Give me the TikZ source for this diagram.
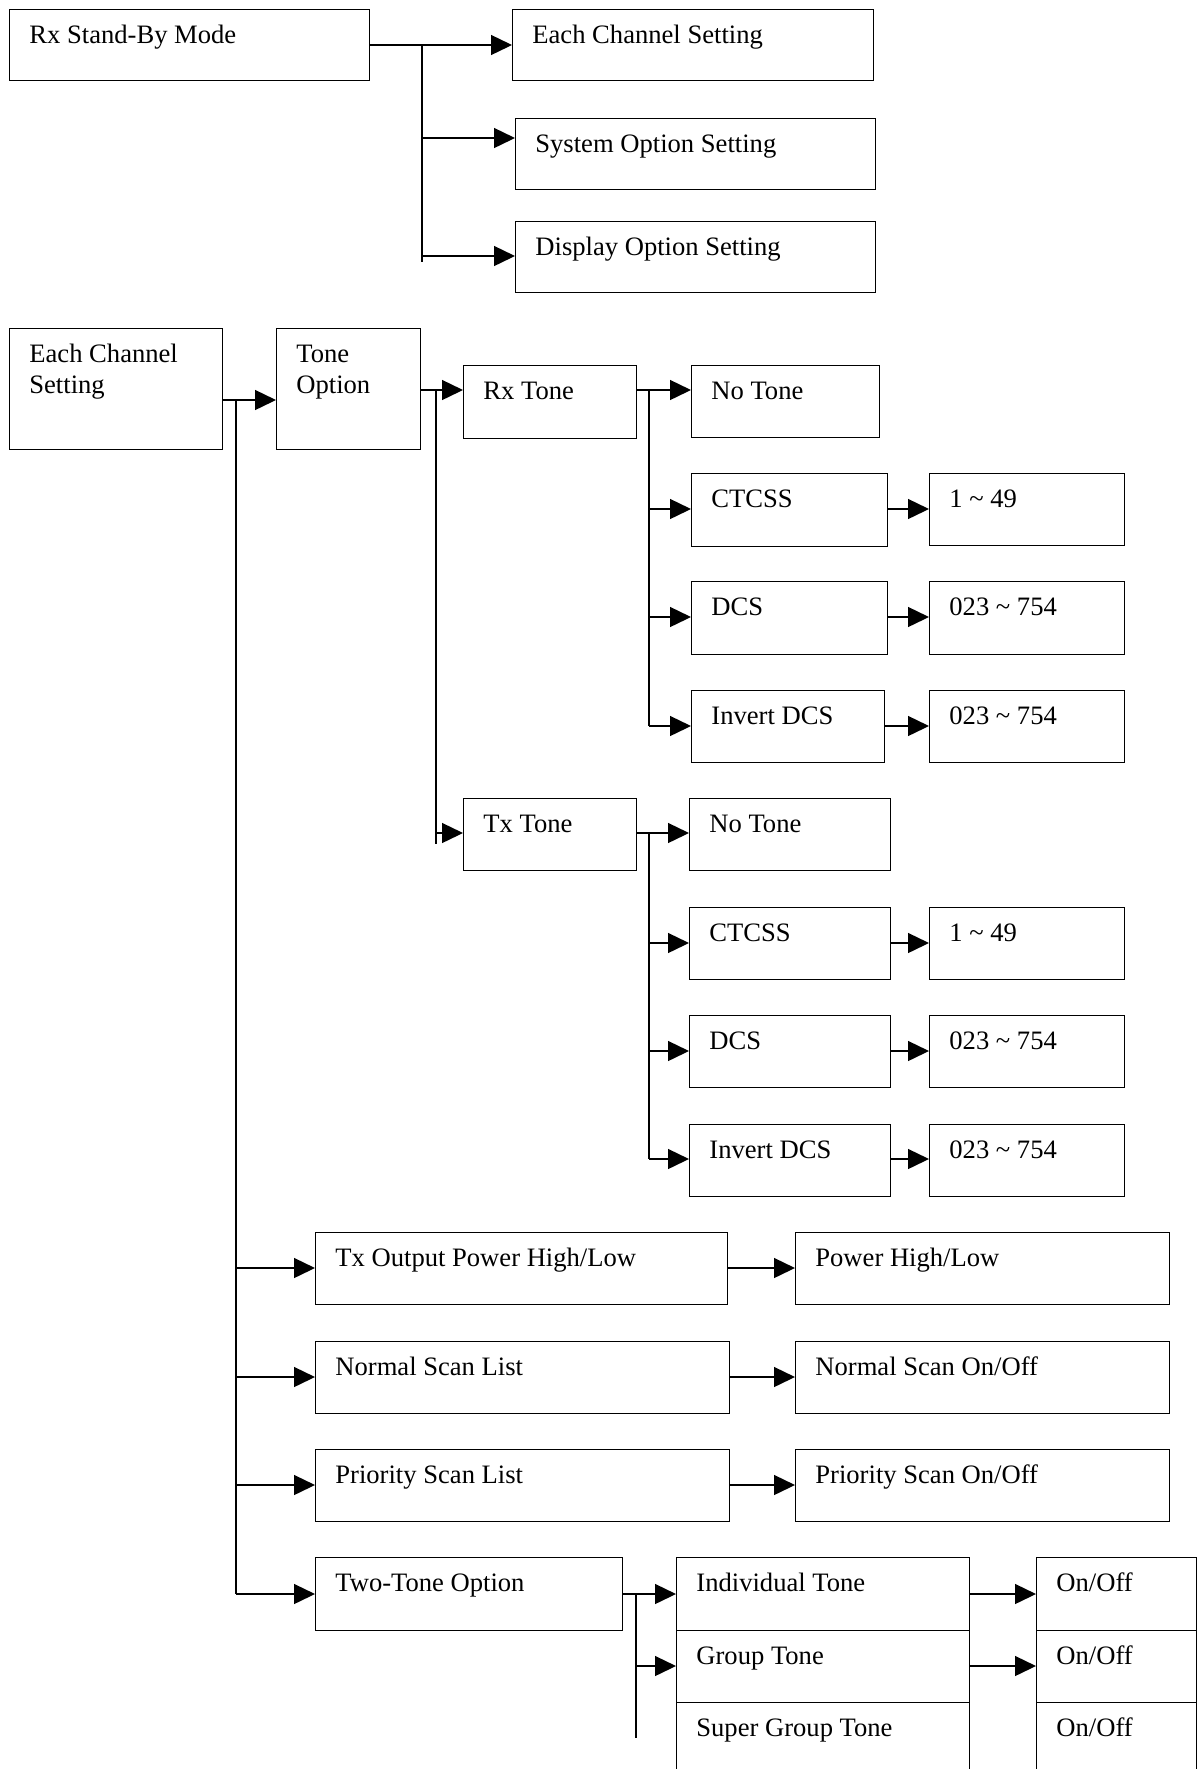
\documentclass[tikz,border=0pt]{standalone}
\usepackage{fontspec}
\setmainfont{Liberation Serif}
\usetikzlibrary{arrows.meta}
\tikzset{
  box/.style={draw, line width=0.7pt, inner sep=0pt, anchor=north west},
  lbl/.style={anchor=base west, inner sep=0pt, font=\fontsize{13.3}{15.5}\selectfont},
  link/.style={line width=0.7pt},
  arr/.style={line width=0.7pt, -{Triangle[length=10.5pt,width=10pt]}},
}
\newcommand\mkbox[6]{%
  \node[box, minimum width={(#4-#2)*0.5pt}, minimum height={(#5-#3)*0.5pt}] (#1) at (#2,#3) {};
  \node[lbl] (#1-t) at ([xshift=10pt,yshift=-17pt]#1.north west) {#6};
}
\begin{document}
\begin{tikzpicture}[x=0.5pt,y=-0.5pt]
\useasboundingbox[fill=white] (0,0) rectangle (1199,1769);
% ---------- section 1
\mkbox{rx}{9}{9}{369}{80}{Rx Stand-By Mode}
\mkbox{ecsa}{512}{9}{873}{80}{Each Channel Setting}
\mkbox{sos}{515}{118}{875}{189}{System Option Setting}
\mkbox{dos}{515}{221}{875}{292}{Display Option Setting}
\coordinate (s1a) at (422,45);
\coordinate (s1b) at (422,138);
\coordinate (s1c) at (422,256);
\coordinate (s1e) at (422,262);
\draw[arr] (rx.east|-s1a) -- (ecsa.west|-s1a);
\draw[link] (s1a) -- (s1e);
\draw[arr] (s1b) -- (sos.west|-s1b);
\draw[arr] (s1c) -- (dos.west|-s1c);
% ---------- section 2
\mkbox{ecs}{9}{328}{222}{449}{\vtop{\hbox{Each Channel}\hbox{Setting}}}
\mkbox{tone}{276}{328}{420}{449}{\vtop{\hbox{Tone}\hbox{Option}}}
\mkbox{rxt}{463}{365}{636}{438}{Rx Tone}
\mkbox{txt}{463}{798}{636}{870}{Tx Tone}
\mkbox{rnt}{691}{365}{879}{437}{No Tone}
\mkbox{rct}{691}{473}{887}{546}{CTCSS}
\mkbox{rdc}{691}{581}{887}{654}{DCS}
\mkbox{rinv}{691}{690}{884}{762}{Invert DCS}
\mkbox{rctv}{929}{473}{1124}{545}{1 \textasciitilde{} 49}
\mkbox{rdcv}{929}{581}{1124}{654}{023 \textasciitilde{} 754}
\mkbox{rinvv}{929}{690}{1124}{762}{023 \textasciitilde{} 754}
\mkbox{tnt}{689}{798}{890}{870}{No Tone}
\mkbox{tct}{689}{907}{890}{979}{CTCSS}
\mkbox{tdc}{689}{1015}{890}{1087}{DCS}
\mkbox{tinv}{689}{1124}{890}{1196}{Invert DCS}
\mkbox{tctv}{929}{907}{1124}{979}{1 \textasciitilde{} 49}
\mkbox{tdcv}{929}{1015}{1124}{1087}{023 \textasciitilde{} 754}
\mkbox{tinvv}{929}{1124}{1124}{1196}{023 \textasciitilde{} 754}
\mkbox{txp}{315}{1232}{727}{1304}{Tx Output Power High/Low}
\mkbox{pwr}{795}{1232}{1169}{1304}{Power High/Low}
\mkbox{nsl}{315}{1341}{729}{1413}{Normal Scan List}
\mkbox{nso}{795}{1341}{1169}{1413}{Normal Scan On/Off}
\mkbox{psl}{315}{1449}{729}{1521}{Priority Scan List}
\mkbox{pso}{795}{1449}{1169}{1521}{Priority Scan On/Off}
\mkbox{two}{315}{1557}{622}{1630}{Two-Tone Option}
\mkbox{ind}{676}{1557}{969}{1630}{Individual Tone}
\mkbox{grp}{676}{1630}{969}{1702}{Group Tone}
\mkbox{sgt}{676}{1702}{969}{1800}{Super Group Tone}
\mkbox{ona}{1036}{1557}{1196}{1630}{On/Off}
\mkbox{onb}{1036}{1630}{1196}{1702}{On/Off}
\mkbox{onc}{1036}{1702}{1196}{1800}{On/Off}
% trunk from Each Channel Setting
\coordinate (k1) at (236,400);
\coordinate (b1) at (236,1268);
\coordinate (b2) at (236,1377);
\coordinate (b3) at (236,1485);
\coordinate (k1e) at (236,1594);
\draw[arr] (ecs.east|-k1) -- (tone.west|-k1);
\draw[link] (k1) -- (k1e);
% trunk from Tone Option
\coordinate (k2) at (436,390);
\coordinate (k2t) at (436,833);
\coordinate (k2e) at (436,844);
\draw[arr] (tone.east|-k2) -- (rxt.west|-k2);
\draw[link] (k2) -- (k2e);
\draw[arr] (k2t) -- (txt.west|-k2t);
% Rx children
\coordinate (k3) at (649,390);
\coordinate (k3b) at (649,509);
\coordinate (k3c) at (649,617);
\coordinate (k3d) at (649,726);
\draw[arr] (rxt.east|-k3) -- (rnt.west|-k3);
\draw[link] (k3) -- (k3d);
\draw[arr] (k3b) -- (rct.west|-k3b);
\draw[arr] (k3c) -- (rdc.west|-k3c);
\draw[arr] (k3d) -- (rinv.west|-k3d);
\draw[arr] (rct.east|-k3b) -- (rctv.west|-k3b);
\draw[arr] (rdc.east|-k3c) -- (rdcv.west|-k3c);
\draw[arr] (rinv.east|-k3d) -- (rinvv.west|-k3d);
% Tx children
\coordinate (k4) at (649,833);
\coordinate (k4b) at (649,943);
\coordinate (k4c) at (649,1051);
\coordinate (k4d) at (649,1159);
\draw[arr] (txt.east|-k4) -- (tnt.west|-k4);
\draw[link] (k4) -- (k4d);
\draw[arr] (k4b) -- (tct.west|-k4b);
\draw[arr] (k4c) -- (tdc.west|-k4c);
\draw[arr] (k4d) -- (tinv.west|-k4d);
\draw[arr] (tct.east|-k4b) -- (tctv.west|-k4b);
\draw[arr] (tdc.east|-k4c) -- (tdcv.west|-k4c);
\draw[arr] (tinv.east|-k4d) -- (tinvv.west|-k4d);
% lower branches
\draw[arr] (b1) -- (txp.west|-b1);
\draw[arr] (txp.east|-b1) -- (pwr.west|-b1);
\draw[arr] (b2) -- (nsl.west|-b2);
\draw[arr] (nsl.east|-b2) -- (nso.west|-b2);
\draw[arr] (b3) -- (psl.west|-b3);
\draw[arr] (psl.east|-b3) -- (pso.west|-b3);
\draw[arr] (k1e) -- (two.west|-k1e);
% two-tone children
\coordinate (k5) at (636,1594);
\coordinate (k5b) at (636,1666);
\coordinate (k5e) at (636,1738);
\draw[arr] (two.east|-k5) -- (ind.west|-k5);
\draw[link] (k5) -- (k5e);
\draw[arr] (k5b) -- (grp.west|-k5b);
\draw[arr] (ind.east|-k5) -- (ona.west|-k5);
\draw[arr] (grp.east|-k5b) -- (onb.west|-k5b);
\end{tikzpicture}
\end{document}
